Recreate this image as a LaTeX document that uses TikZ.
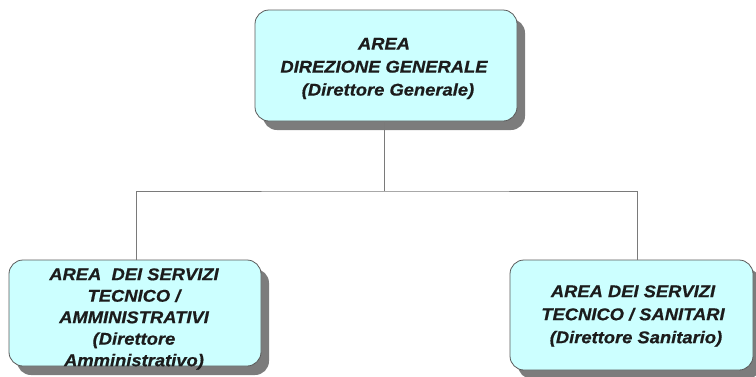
\documentclass[tikz,border=0pt]{standalone}
\usepackage{fontspec}
\setmainfont{Liberation Sans}[FakeStretch=1.08, FakeBold=0.6]
\usetikzlibrary{shadows}
\definecolor{boxfill}{HTML}{CCFFFF}
\definecolor{boxline}{HTML}{5A5A5A}
\definecolor{linkgray}{HTML}{7A7A7A}
\definecolor{shadowgray}{HTML}{7C7C7C}
\definecolor{ink}{HTML}{1C1C1C}
\tikzset{
  areabox/.style={draw=boxline, line width=0.8pt, fill=boxfill,
    rounded corners=14pt, inner sep=0pt,
    drop shadow={shadow xshift=8pt, shadow yshift=-9pt, fill=shadowgray, opacity=1}},
  areatext/.style={align=center, text=ink, inner sep=0pt,
    font=\fontsize{17}{23}\selectfont\bfseries\itshape},
  link/.style={draw=linkgray, line width=0.9pt}
}
\begin{document}
\begin{tikzpicture}[x=1pt,y=-1pt]
  \useasboundingbox (0,0) rectangle (756,376);
  % boxes
  \node[areabox, minimum width=262pt, minimum height=111pt] (top) at (386,65.5) {};
  \node[areabox, minimum width=252pt, minimum height=106pt] (lbox) at (135,313) {};
  \node[areabox, minimum width=243pt, minimum height=110pt] (rbox) at (631.5,315) {};
  % texts
  \node[areatext] (toptext) at (384,68.5) {AREA\\DIREZIONE GENERALE\\\hspace*{8pt}(Direttore Generale)};
  \node[areatext, font=\fontsize{17}{21.5}\selectfont\bfseries\itshape] (ltext) at (134,319)
    {AREA\ \ DEI SERVIZI\\TECNICO /\\AMMINISTRATIVI\\(Direttore\\Amministrativo)};
  \node[areatext] (rtext) at (633,316) {AREA DEI SERVIZI\\TECNICO / SANITARI\\\hspace*{6pt}(Direttore Sanitario)};
  % connectors
  \coordinate (bus) at (384,191);
  \coordinate (ldrop) at (136,260);
  \coordinate (rdrop) at (637,260);
  \draw[link] (384,0 |- top.south) -- (bus);
  \draw[link] (ldrop) |- (bus) -| (rdrop);
\end{tikzpicture}
\end{document}
